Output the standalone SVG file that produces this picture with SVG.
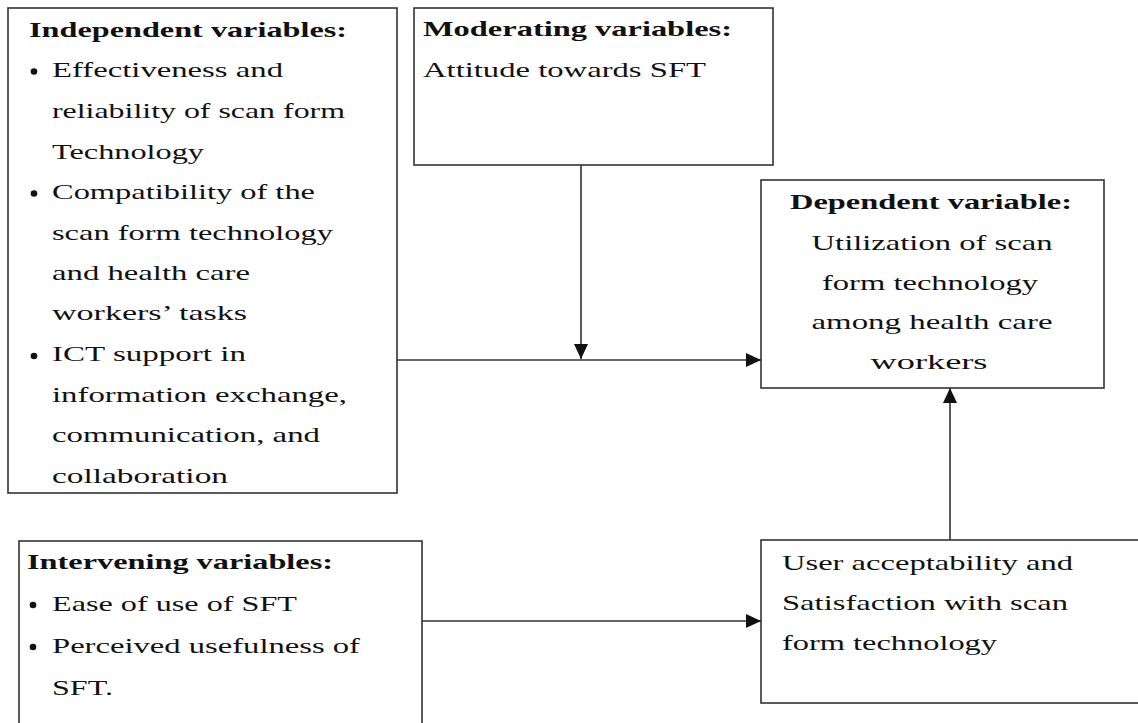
<svg xmlns="http://www.w3.org/2000/svg" width="1138" height="723" viewBox="0 0 1138 723">
<defs>
<style>
.box{fill:#fff;stroke:#333;stroke-width:1.6}
.t{font-family:"Liberation Serif","Times New Roman",serif;font-size:21px;fill:#111}
.h{font-weight:bold}
.b{fill:#111}
.c{stroke:#333;stroke-width:1.6;fill:none}
</style>
<marker id="arr" markerWidth="16" markerHeight="14" refX="15" refY="7" orient="auto" markerUnits="userSpaceOnUse">
<path d="M0,0 L15,7 L0,14 Z" fill="#111"/>
</marker>
</defs>
<rect width="1138" height="723" fill="#fff"/>

<g id="independent">
<rect class="box" x="8" y="8" width="389" height="485"/>
<text class="t h" x="29" y="37" textLength="318" lengthAdjust="spacingAndGlyphs">Independent variables:</text>
<circle class="b" cx="34" cy="71.5" r="3.3"/>
<text class="t" x="52" y="77" textLength="231" lengthAdjust="spacingAndGlyphs">Effectiveness and</text>
<text class="t" x="52" y="118" textLength="293" lengthAdjust="spacingAndGlyphs">reliability of scan form</text>
<text class="t" x="52" y="159" textLength="152" lengthAdjust="spacingAndGlyphs">Technology</text>
<circle class="b" cx="34" cy="193.5" r="3.3"/>
<text class="t" x="52" y="199" textLength="263" lengthAdjust="spacingAndGlyphs">Compatibility of the</text>
<text class="t" x="52" y="240" textLength="281" lengthAdjust="spacingAndGlyphs">scan form technology</text>
<text class="t" x="52" y="280" textLength="198" lengthAdjust="spacingAndGlyphs">and health care</text>
<text class="t" x="52" y="320" textLength="195" lengthAdjust="spacingAndGlyphs">workers’ tasks</text>
<circle class="b" cx="34" cy="356" r="3.3"/>
<text class="t" x="52" y="361" textLength="194" lengthAdjust="spacingAndGlyphs">ICT support in</text>
<text class="t" x="52" y="402" textLength="295" lengthAdjust="spacingAndGlyphs">information exchange,</text>
<text class="t" x="52" y="442" textLength="268" lengthAdjust="spacingAndGlyphs">communication, and</text>
<text class="t" x="52" y="483" textLength="176" lengthAdjust="spacingAndGlyphs">collaboration</text>
</g>

<g id="moderating">
<rect class="box" x="414" y="8" width="359" height="157"/>
<text class="t h" x="423" y="36" textLength="309" lengthAdjust="spacingAndGlyphs">Moderating variables:</text>
<text class="t" x="423" y="77" textLength="283" lengthAdjust="spacingAndGlyphs">Attitude towards SFT</text>
</g>

<g id="dependent">
<rect class="box" x="761" y="180" width="343" height="208"/>
<text class="t h" x="931" y="209" text-anchor="middle" textLength="282" lengthAdjust="spacingAndGlyphs">Dependent variable:</text>
<text class="t" x="932" y="250" text-anchor="middle" textLength="241" lengthAdjust="spacingAndGlyphs">Utilization of scan</text>
<text class="t" x="930" y="290" text-anchor="middle" textLength="216" lengthAdjust="spacingAndGlyphs">form technology</text>
<text class="t" x="932" y="329" text-anchor="middle" textLength="241" lengthAdjust="spacingAndGlyphs">among health care</text>
<text class="t" x="929" y="369" text-anchor="middle" textLength="117" lengthAdjust="spacingAndGlyphs">workers</text>
</g>

<g id="intervening">
<rect class="box" x="19" y="541" width="403" height="190"/>
<text class="t h" x="27" y="569" textLength="306" lengthAdjust="spacingAndGlyphs">Intervening variables:</text>
<circle class="b" cx="33" cy="605" r="3.3"/>
<text class="t" x="52" y="611" textLength="245" lengthAdjust="spacingAndGlyphs">Ease of use of SFT</text>
<circle class="b" cx="33" cy="647" r="3.3"/>
<text class="t" x="52" y="653" textLength="308" lengthAdjust="spacingAndGlyphs">Perceived usefulness of</text>
<text class="t" x="52" y="695" textLength="61" lengthAdjust="spacingAndGlyphs">SFT.</text>
</g>

<g id="satisfaction">
<rect class="box" x="761" y="540" width="390" height="163"/>
<text class="t" x="782" y="570" textLength="291" lengthAdjust="spacingAndGlyphs">User acceptability and</text>
<text class="t" x="782" y="610" textLength="286" lengthAdjust="spacingAndGlyphs">Satisfaction with scan</text>
<text class="t" x="782" y="650" textLength="215" lengthAdjust="spacingAndGlyphs">form technology</text>
</g>

<g id="connectors">
<line class="c" x1="581" y1="165" x2="581" y2="359" marker-end="url(#arr)"/>
<line class="c" x1="397" y1="360" x2="761" y2="360" marker-end="url(#arr)"/>
<line class="c" x1="422" y1="621" x2="761" y2="621" marker-end="url(#arr)"/>
<line class="c" x1="950" y1="540" x2="950" y2="388" marker-end="url(#arr)"/>
</g>
</svg>
